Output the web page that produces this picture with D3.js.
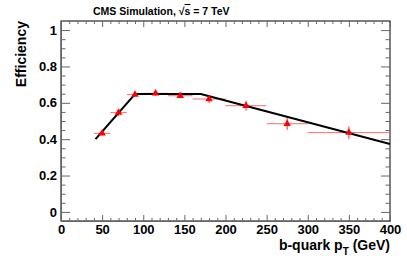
<!DOCTYPE html>
<html>
<head>
<meta charset="utf-8">
<script src="https://cdn.jsdelivr.net/npm/d3@7"></script>
<style>
  body { margin: 0; background: #fff; }
  svg { display: block; font-family: "Liberation Sans", Arial, sans-serif; font-weight: bold; }
</style>
</head>
<body>
<div id="chart"></div>
<script>
// b-quark pT bins and efficiency
const ptCenters = [50, 70, 90, 115, 145, 180, 225, 275, 350];
const binLow = [40, 60, 80, 100, 130, 160, 200, 250, 300];
const binHigh = [60, 80, 100, 130, 160, 200, 250, 300, 400];
const eff = [0.432, 0.546, 0.645, 0.652, 0.639, 0.621, 0.584, 0.485, 0.436];
const effErr = [0.012, 0.018, 0.012, 0.012, 0.012, 0.022, 0.027, 0.034, 0.035];

// fitted parametrisation (black curve)
const fitPt = [42, 90, 170, 400];
const fitEff = [0.40, 0.648, 0.648, 0.373];

const xTicks = [0, 50, 100, 150, 200, 250, 300, 350, 400];
const yTicks = [0, 0.2, 0.4, 0.6, 0.8, 1];

const width = 407;
const height = 261;
const mLeft = 61, mRight = 390, mTop = 21, mBottom = 221;

const svg = d3.select('#chart').append('svg')
  .attr('width', width)
  .attr('height', height);

const x = d3.scaleLinear().domain([0, 400]).range([mLeft, mRight]);
const y = d3.scaleLinear().domain([-0.05, 1.05]).range([mBottom, mTop]);

const axisColor = '#666';

// frame
svg.append('rect')
  .attr('x', mLeft).attr('y', mTop)
  .attr('width', mRight - mLeft).attr('height', mBottom - mTop)
  .attr('fill', 'none').attr('stroke', '#000').attr('stroke-width', 1);

const xMinor = d3.range(0, 401, 10).filter((v) => v % 50 !== 0);
const yMinor = d3.range(0, 21).map((i) => i * 0.05).filter((v, i) => i % 4 !== 0);

function styleAxis(g) {
  g.selectAll('.domain').attr('stroke', axisColor);
  g.selectAll('.tick line').attr('stroke', axisColor);
  g.selectAll('text')
    .attr('font-size', 13)
    .attr('font-weight', 'bold')
    .attr('font-family', '"Liberation Sans", Arial, sans-serif')
    .attr('fill', '#000');
}

// bottom axis
svg.append('g')
  .attr('transform', `translate(0,${mBottom})`)
  .call(d3.axisBottom(x).tickValues(xTicks).tickSize(-6).tickSizeOuter(0).tickPadding(4).tickFormat(d3.format('d')))
  .call(styleAxis);
svg.append('g')
  .attr('transform', `translate(0,${mBottom})`)
  .call(d3.axisBottom(x).tickValues(xMinor).tickSize(-3).tickSizeOuter(0).tickFormat(''))
  .call(styleAxis);

// top ticks
svg.append('g')
  .attr('transform', `translate(0,${mTop})`)
  .call(d3.axisTop(x).tickValues(xTicks).tickSize(-6).tickSizeOuter(0).tickFormat(''))
  .call(styleAxis)
  .call((g) => g.select('.domain').remove());
svg.append('g')
  .attr('transform', `translate(0,${mTop})`)
  .call(d3.axisTop(x).tickValues(xMinor).tickSize(-3).tickSizeOuter(0).tickFormat(''))
  .call(styleAxis)
  .call((g) => g.select('.domain').remove());

// left axis
svg.append('g')
  .attr('transform', `translate(${mLeft},0)`)
  .call(d3.axisLeft(y).tickValues(yTicks).tickSize(-9).tickSizeOuter(0).tickPadding(4)
    .tickFormat((d) => (d === 0 || d === 1 ? d3.format('d')(d) : d3.format('.1f')(d))))
  .call(styleAxis)
  .call((g) => g.selectAll('text').attr('x', -4));
svg.append('g')
  .attr('transform', `translate(${mLeft},0)`)
  .call(d3.axisLeft(y).tickValues(yMinor).tickSize(-4.5).tickSizeOuter(0).tickFormat(''))
  .call(styleAxis)
  .call((g) => g.select('.domain').remove());

// right ticks
svg.append('g')
  .attr('transform', `translate(${mRight},0)`)
  .call(d3.axisRight(y).tickValues(yTicks).tickSize(-9).tickSizeOuter(0).tickFormat(''))
  .call(styleAxis)
  .call((g) => g.select('.domain').remove());
svg.append('g')
  .attr('transform', `translate(${mRight},0)`)
  .call(d3.axisRight(y).tickValues(yMinor).tickSize(-4.5).tickSizeOuter(0).tickFormat(''))
  .call(styleAxis)
  .call((g) => g.select('.domain').remove());

// data points
const points = ptCenters.map((pt, i) => ({
  pt, lo: binLow[i], hi: binHigh[i], eff: eff[i], err: effErr[i]
}));

const plot = svg.append('g');

plot.selectAll('line.xerr')
  .data(points)
  .enter()
  .append('line')
  .attr('class', 'xerr')
  .attr('x1', (d) => x(d.lo))
  .attr('x2', (d) => x(d.hi))
  .attr('y1', (d) => y(d.eff))
  .attr('y2', (d) => y(d.eff))
  .attr('stroke', '#ff6a6a')
  .attr('stroke-width', 1);

plot.selectAll('line.yerr')
  .data(points)
  .enter()
  .append('line')
  .attr('class', 'yerr')
  .attr('x1', (d) => x(d.pt))
  .attr('x2', (d) => x(d.pt))
  .attr('y1', (d) => y(d.eff - d.err))
  .attr('y2', (d) => y(d.eff + d.err))
  .attr('stroke', '#ff3030')
  .attr('stroke-width', 1);

// fit curve
const line = d3.line()
  .x((d) => x(d[0]))
  .y((d) => y(d[1]));

plot.append('path')
  .datum(fitPt.map((p, i) => [p, fitEff[i]]))
  .attr('d', line)
  .attr('fill', 'none')
  .attr('stroke', '#000')
  .attr('stroke-width', 2);

const tri = d3.symbol().type(d3.symbolTriangle).size(24);
plot.selectAll('path.marker')
  .data(points)
  .enter()
  .append('path')
  .attr('class', 'marker')
  .attr('transform', (d) => `translate(${x(d.pt)},${y(d.eff)})`)
  .attr('d', tri)
  .attr('fill', '#f00');

// title
const title = svg.append('text')
  .attr('x', 93)
  .attr('y', 15)
  .attr('font-size', 10.5)
  .attr('fill', '#000');
title.append('tspan').text('CMS Simulation, \u221A');
title.append('tspan').attr('text-decoration', 'overline').text('s');
title.append('tspan').text(' = 7 TeV');

// axis titles
svg.append('text')
  .attr('transform', `translate(26,${mTop}) rotate(-90)`)
  .attr('text-anchor', 'end')
  .attr('font-size', 14)
  .attr('fill', '#000')
  .text('Efficiency');

const xTitle = svg.append('text')
  .attr('x', mRight)
  .attr('y', 250)
  .attr('text-anchor', 'end')
  .attr('font-size', 14)
  .attr('fill', '#000');
xTitle.append('tspan').text('b-quark p');
xTitle.append('tspan').attr('dy', 5).attr('font-size', 10).text('T');
xTitle.append('tspan').attr('dy', -5).text(' (GeV)');
</script>
</body>
</html>
